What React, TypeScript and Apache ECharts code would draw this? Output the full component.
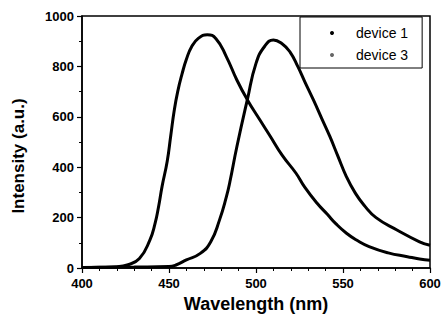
import React, { useEffect, useRef } from "react";
import * as echarts from "echarts";

const wl1 = [400, 410, 420, 426, 433, 439, 442, 444, 446, 449, 451, 453, 455, 457.5, 460, 463, 467, 472, 477, 483, 489, 495, 502, 508, 515, 523, 528, 535, 541, 546, 552, 558, 565, 576, 587, 594, 600];
const int1 = [2, 3, 5, 12, 38, 111, 177, 243, 323, 425, 525, 625, 700, 770, 828, 878, 912, 926, 910, 838, 746, 668, 590, 525, 448, 376, 321, 258, 213, 175, 138, 110, 85, 60, 45, 36, 31];

const wl3 = [400, 430, 450, 454, 460, 468, 474, 479, 483, 485, 489, 495, 500, 505, 510, 515, 519.5, 524, 528, 533, 538, 542.5, 547, 552, 557, 562, 569, 581, 594, 600];
const int3 = [2, 4, 6, 12, 32, 58, 104, 190, 283, 342, 481, 667, 812, 880, 905, 890, 858, 800, 740, 667, 590, 521, 445, 362, 298, 250, 200, 151, 104, 90];

const names = ["device 1", "device 3"];
const xTicks = [400, 450, 500, 550, 600];
const yTicks = [0, 200, 400, 600, 800, 1000];

export default function App() {
  const ref = useRef<HTMLDivElement>(null);
  useEffect(() => {
    const chart = echarts.init(ref.current!, null, { renderer: "svg" });
    const font = "'Liberation Sans', Arial, sans-serif";
    chart.setOption({
      animation: false,
      backgroundColor: "#fff",
      grid: { left: 82, right: 14, top: 16, bottom: 52, show: true, borderColor: "#000", borderWidth: 1.5 },
      legend: {
        left: 300,
        top: 17,
        orient: "vertical",
        padding: [9, 14, 6, 30],
        itemGap: 8,
        itemWidth: 4,
        itemHeight: 14,
        borderColor: "#000",
        borderWidth: 1,
        backgroundColor: "#fff",
        textStyle: { fontFamily: font, fontSize: 14, color: "#000", padding: [0, 0, 0, 17] },
        data: [
          { name: names[0], icon: "circle", itemStyle: { color: "#000" } },
          { name: names[1], icon: "circle", itemStyle: { color: "#666" } },
        ],
      },
      graphic: [
        {
          type: "text",
          x: 18,
          y: 156,
          rotation: Math.PI / 2,
          style: {
            text: "Intensity (a.u.)",
            fontFamily: font,
            fontSize: 17,
            fontWeight: "bold",
            fill: "#000",
            align: "center",
            verticalAlign: "middle",
          },
        },
      ],
      xAxis: {
        type: "value",
        min: xTicks[0],
        max: xTicks[xTicks.length - 1],
        interval: 50,
        name: "Wavelength (nm)",
        nameLocation: "middle",
        nameGap: 26,
        nameTextStyle: { fontFamily: font, fontSize: 18, fontWeight: "bold", color: "#000" },
        axisLine: { lineStyle: { color: "#000", width: 1.5 } },
        axisTick: { show: true, inside: false, length: 5, lineStyle: { color: "#000", width: 1.2 } },
        minorTick: { show: true, splitNumber: 5, length: 3, lineStyle: { color: "#000" } },
        axisLabel: { fontFamily: font, fontSize: 13, fontWeight: "bold", color: "#000", margin: 9 },
        splitLine: { show: false },
      },
      yAxis: {
        type: "value",
        min: yTicks[0],
        max: yTicks[yTicks.length - 1],
        interval: 200,
        axisLine: { lineStyle: { color: "#000", width: 1.5 } },
        axisTick: { show: true, inside: false, length: 5, lineStyle: { color: "#000", width: 1.2 } },
        minorTick: { show: true, splitNumber: 2, length: 3, lineStyle: { color: "#000" } },
        axisLabel: {
          fontFamily: font,
          fontSize: 13,
          fontWeight: "bold",
          color: "#000",
          margin: 8,
          formatter: (v: number) => String(v),
        },
        splitLine: { show: false },
      },
      series: [
        {
          name: names[0],
          type: "line",
          smooth: 0.5,
          showSymbol: false,
          data: wl1.map((x, i) => [x, int1[i]]),
          lineStyle: { color: "#000", width: 3 },
          itemStyle: { color: "#000" },
        },
        {
          name: names[1],
          type: "line",
          smooth: 0.5,
          showSymbol: false,
          data: wl3.map((x, i) => [x, int3[i]]),
          lineStyle: { color: "#000", width: 3 },
          itemStyle: { color: "#666" },
        },
      ],
    });
    return () => chart.dispose();
  }, []);
  return <div ref={ref} style={{ width: 444, height: 320, position: "absolute", left: 0, top: 0 }} />;
}
